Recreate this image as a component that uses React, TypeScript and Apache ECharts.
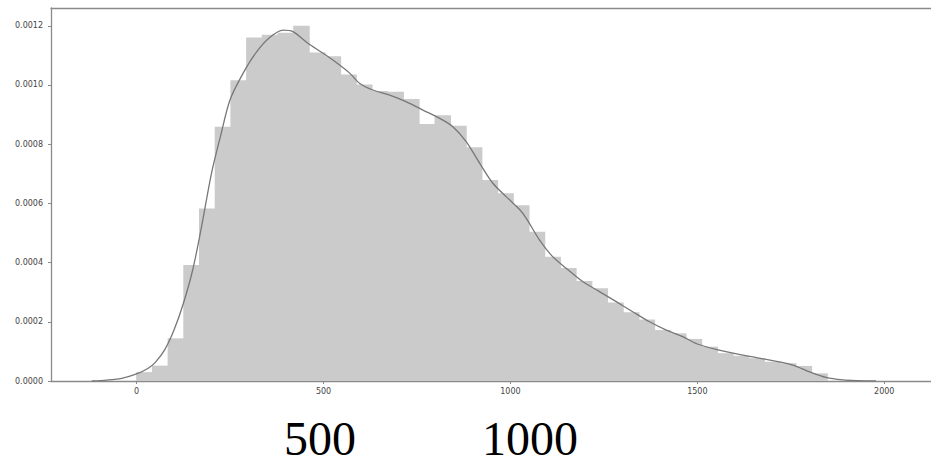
import React, { useEffect, useRef } from "react";
import * as echarts from "echarts";

// Histogram: bins of equal width starting at binStart
const binStart = 0;
const binWidth = 42;
const binValues = [
  0.00003, 0.000052, 0.000144, 0.000392, 0.000583, 0.000859, 0.001016, 0.00116,
  0.00117, 0.001176, 0.0012, 0.00111, 0.001097, 0.001035, 0.001002, 0.00098,
  0.000977, 0.000953, 0.000868, 0.000898, 0.000862, 0.00079, 0.000679, 0.000634,
  0.000594, 0.000504, 0.00042, 0.000382, 0.000338, 0.000313, 0.000265, 0.000232,
  0.000208, 0.000172, 0.000161, 0.000142, 0.000116, 0.000094, 0.000085, 0.000077,
  0.000065, 0.00006, 0.000051, 0.000026,
];

// KDE curve
const kdeX = [
  -120, -80, -40, 0, 30, 50, 75, 100, 125, 150, 175, 200, 225, 250, 285, 320, 356,
  392, 418, 459, 499, 535, 570, 597, 632, 677, 722, 766, 811, 846, 882, 918, 953,
  989, 1024, 1042, 1078, 1113, 1149, 1194, 1238, 1283, 1327, 1372, 1417, 1461,
  1500, 1576, 1666, 1755, 1800, 1844, 1889, 1930, 1978,
];
const kdeY = [
  0.0, 0.000003, 0.000009, 0.000024, 0.000042, 0.000063, 0.000105, 0.000172,
  0.000262, 0.000375, 0.00053, 0.0007, 0.00083, 0.00095, 0.00104, 0.00111,
  0.00116, 0.001185, 0.00118, 0.00114, 0.001107, 0.001075, 0.00104, 0.001005,
  0.000983, 0.000966, 0.000943, 0.000915, 0.000887, 0.000859, 0.000808, 0.000735,
  0.000668, 0.000622, 0.00058, 0.00055, 0.000476, 0.00042, 0.000381, 0.000335,
  0.000302, 0.000268, 0.000234, 0.0002, 0.000172, 0.00015, 0.000125, 0.000099,
  0.000077, 0.000054, 0.000031, 0.000012, 0.0000035, 0.000001, 0.0,
];

const xTicks = [0, 500, 1000, 1500, 2000];
const yTicks = [0, 0.0002, 0.0004, 0.0006, 0.0008, 0.001, 0.0012];
const bigLabels = ["500", "1000"];

export default function App() {
  const ref = useRef<HTMLDivElement>(null);
  useEffect(() => {
    if (!ref.current) return;
    const chart = echarts.init(ref.current, null, { renderer: "svg" });
    const histData = binValues.map((v, i) => [
      binStart + i * binWidth,
      binStart + (i + 1) * binWidth,
      v,
    ]);
    const kdeData = kdeX.map((x, i) => [x, kdeY[i]]);
    const axisColor = "#8a8a8a";
    const labelStyle = {
      color: "#444",
      fontSize: 8,
      fontFamily: "DejaVu Sans",
    };
    const bigText = (text: string, x: number) => ({
      type: "text",
      x,
      y: 438,
      style: {
        text,
        fontSize: 48,
        lineHeight: 34,
        fontFamily: "Liberation Serif",
        fill: "#000",
        textAlign: "center",
        textVerticalAlign: "middle",
      },
    });
    chart.setOption({
      animation: false,
      backgroundColor: "#ffffff",
      grid: { left: 51, right: 0, top: 8, bottom: 85 },
      xAxis: [
        {
          type: "value",
          min: -229,
          max: 2125,
          splitLine: { show: false },
          axisLine: { onZero: false, lineStyle: { color: axisColor, width: 1.3 } },
          axisTick: {
            show: true,
            length: 3,
            customValues: xTicks,
            lineStyle: { color: axisColor },
          },
          axisLabel: {
            ...labelStyle,
            margin: 6,
            customValues: xTicks,
            formatter: (v: number) => String(v),
          },
        },
        {
          type: "value",
          position: "top",
          min: -229,
          max: 2125,
          splitLine: { show: false },
          axisLine: { onZero: false, lineStyle: { color: axisColor, width: 1.3 } },
          axisTick: { show: false },
          axisLabel: { show: false },
        },
      ],
      yAxis: {
        type: "value",
        min: 0,
        max: 0.00126,
        splitLine: { show: false },
        axisLine: { show: true, onZero: false, lineStyle: { color: axisColor, width: 1.3 } },
        axisTick: {
          show: true,
          length: 3,
          customValues: yTicks,
          lineStyle: { color: axisColor },
        },
        axisLabel: {
          ...labelStyle,
          margin: 8,
          customValues: yTicks,
          formatter: (v: number) => v.toFixed(4),
        },
      },
      series: [
        {
          type: "custom",
          xAxisIndex: 0,
          renderItem: (params: any, api: any) => {
            const p0 = api.coord([api.value(0), api.value(2)]);
            const p1 = api.coord([api.value(1), 0]);
            return {
              type: "rect",
              shape: {
                x: p0[0] - 0.4,
                y: p0[1],
                width: p1[0] - p0[0] + 0.8,
                height: p1[1] - p0[1],
              },
              style: { fill: "#cbcbcb" },
            };
          },
          encode: { x: [0, 1], y: 2 },
          data: histData,
          z: 1,
        },
        {
          type: "line",
          xAxisIndex: 0,
          data: kdeData,
          showSymbol: false,
          smooth: 0.3,
          lineStyle: { color: "#777777", width: 1.3 },
          z: 3,
        },
      ],
      graphic: [bigText(bigLabels[0], 320), bigText(bigLabels[1], 530)],
    });
    return () => chart.dispose();
  }, []);
  return (
    <div
      ref={ref}
      style={{ position: "fixed", left: 0, top: 0, width: 931, height: 466 }}
    />
  );
}
